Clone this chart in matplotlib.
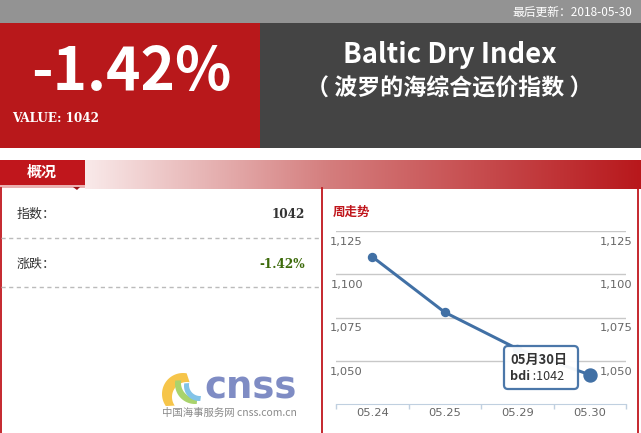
import matplotlib
matplotlib.use('Agg')
import matplotlib.pyplot as plt
import numpy as np
from matplotlib.patches import Rectangle, FancyBboxPatch, Polygon
from matplotlib import transforms

# ---------------- data ----------------
dates = ['05.24', '05.25', '05.29', '05.30']
bdi = [1110, 1078, 1057, 1042]
yticks = [1050, 1075, 1100, 1125]
ytick_labels = ['1,050', '1,075', '1,100', '1,125']
change_pct = '-1.42%'
latest_value = 1042
update_date = '2018-05-30'
tooltip_date = '05月30日'
title_en = 'Baltic Dry Index'
title_cn = '（ 波罗的海综合运价指数 ）'

W, H = 641, 433
fig = plt.figure(figsize=(W / 100, H / 100), dpi=100)
CJK = ['Noto Sans CJK SC', 'DejaVu Sans']
PT = 0.72  # points per pixel

bg = fig.add_axes([0, 0, 1, 1])
bg.set_xlim(0, W)
bg.set_ylim(H, 0)
bg.axis('off')

RED = '#b8181b'
# top bar
bg.add_patch(Rectangle((0, 0), W, 23, color='#939393', lw=0))
bg.text(632, 12, '最后更新：' + update_date, color='white', fontsize=11.8 * PT,
        family=CJK, ha='right', va='center')
# red block
bg.add_patch(Rectangle((0, 23), 260, 125, color=RED, lw=0))
bg.text(131, 73, change_pct, color='white', fontsize=58.5 * PT, family=CJK,
        fontweight='bold', ha='center', va='center')
bg.text(12, 118, 'VALUE: %d' % latest_value, color='white', fontsize=12 * PT,
        family='DejaVu Serif', fontweight='bold', ha='left', va='center')
# dark block
bg.add_patch(Rectangle((260, 23), W - 260, 125, color='#444444', lw=0))
bg.text(450, 55, title_en, color='white', fontsize=27.5 * PT, family=CJK,
        fontweight='bold', ha='center', va='center')
bg.text(449, 89, title_cn, color='white', fontsize=23 * PT, family=CJK,
        fontweight='bold', ha='center', va='center')

# section header gradient
xs = np.linspace(85, 641, 400)
stops_x = [85, 330, 641]
cols = np.array([[249, 234, 234], [212, 125, 125], [184, 24, 28]]) / 255.0
grad = np.stack([np.interp(xs, stops_x, cols[:, i]) for i in range(3)], axis=-1)[None, :, :]
bg.imshow(grad, extent=(85, 641, 189, 160), aspect='auto', interpolation='bilinear', zorder=1)
bg.set_xlim(0, W)
bg.set_ylim(H, 0)
bg.add_patch(Rectangle((0, 160), 85, 25, color='#c0161c', lw=0, zorder=2))
bg.add_patch(Rectangle((0, 185), 85, 2.5, color='#eab0b0', lw=0, zorder=2))
bg.add_patch(Polygon([[73, 187], [80, 187], [77, 190]], closed=True, color='#9a1015', lw=0, zorder=2))
bg.text(42, 172, '概况', color='white', fontsize=15 * PT, family=CJK,
        fontweight='bold', ha='center', va='center', zorder=3)

# panel borders
for x in (0.8, 321.5, 637.5):
    bg.plot([x, x], [188, H], color='#c0161c', lw=1.3, zorder=2)

# left panel
bg.text(17, 214, '指数：', color='#333333', fontsize=13 * PT, family=CJK, ha='left', va='center')
bg.text(305, 214, '%d' % latest_value, color='#333333', fontsize=12 * PT,
        family='DejaVu Serif', fontweight='bold', ha='right', va='center')
bg.plot([1, 321], [238, 238], color='#bbbbbb', lw=1, ls=(0, (3, 2.5)))
bg.text(17, 264, '涨跌：', color='#333333', fontsize=13 * PT, family=CJK, ha='left', va='center')
bg.text(305, 264, change_pct, color='#3c6a0a', fontsize=12 * PT,
        family='DejaVu Serif', fontweight='bold', ha='right', va='center')
bg.plot([1, 321], [287, 287], color='#bbbbbb', lw=1, ls=(0, (3, 2.5)))


# logo (decorative crescents)
def crescent(c1, r1, c2, r2, t0, t1, n=40):
    a = np.radians(np.linspace(t0, t1, n))
    outer = np.c_[c1[0] + r1 * np.cos(a), c1[1] - r1 * np.sin(a)]
    inner = np.c_[c2[0] + r2 * np.cos(a[::-1]), c2[1] - r2 * np.sin(a[::-1])]
    return np.vstack([outer, inner])


bg.add_patch(Polygon(crescent((183, 394), 21, (187, 397), 15, 80, 215), closed=True,
                     color='#f6c54a', lw=0))
bg.add_patch(Polygon(crescent((195, 384), 20, (196, 383), 15, 170, 275), closed=True,
                     color='#a9d36c', lw=0))
bg.add_patch(Polygon(crescent((199, 386), 15, (200, 385), 11, 170, 275), closed=True,
                     color='#82c3e8', lw=0))
bg.text(251, 388, 'cnss', color='#7f8cc4', fontsize=37 * PT, family='DejaVu Sans',
        fontweight='bold', ha='center', va='center')
bg.text(229, 413, '中国海事服务网 cnss.com.cn', color='#8a8a8a', fontsize=10.4 * PT,
        family=CJK, ha='center', va='center')

# right panel title
bg.text(333, 212, '周走势', color='#c0161c', fontsize=12.5 * PT, family=CJK,
        fontweight='bold', ha='left', va='center')

# ---------------- chart ----------------
ax_l, ax_r, ax_t, ax_b = 336, 626, 230.7, 404.3
ax = fig.add_axes([ax_l / W, 1 - ax_b / H, (ax_r - ax_l) / W, (ax_b - ax_t) / H])
ax.patch.set_alpha(0)
ax.set_xlim(-0.5, len(dates) - 0.5)
ax.set_ylim(1025, 1125)
for s in ('top', 'left', 'right'):
    ax.spines[s].set_visible(False)
ax.spines['bottom'].set_color('#c0d0e0')
ax.set_yticks(yticks)
ax.tick_params(axis='y', length=0, labelleft=False)
ax.yaxis.grid(True, color='#c8c8c8', lw=1)
ax.set_axisbelow(True)
xpos = np.arange(len(dates))
ax.set_xticks(xpos)
ax.set_xticklabels(dates)
ax.set_xticks(np.arange(len(dates) + 1) - 0.5, minor=True)
ax.tick_params(axis='x', which='major', length=0, pad=3, labelsize=11.5 * PT, labelcolor='#666666')
ax.tick_params(axis='x', which='minor', length=5 * PT, color='#c0d0e0', width=1)

off = transforms.ScaledTranslation(0, -11 / 100, fig.dpi_scale_trans)
trL = transforms.blended_transform_factory(ax.transAxes, ax.transData) + off
for v, lab in zip(yticks, ytick_labels):
    ax.text((363 - ax_l) / (ax_r - ax_l), v, lab, transform=trL, ha='right', va='center',
            fontsize=11.5 * PT, color='#666666')
    ax.text((600 - ax_l) / (ax_r - ax_l), v, lab, transform=trL, ha='left', va='center',
            fontsize=11.5 * PT, color='#666666')

LINE = '#4170a5'
ax.plot(xpos, bdi, color=LINE, lw=3 * PT, marker='o', markersize=8 * PT, zorder=3, clip_on=False)
ax.plot(xpos[-1:], bdi[-1:], color=LINE, marker='o', markersize=13 * PT, ls='none', zorder=4, clip_on=False)

# ---------------- tooltip ----------------
top = fig.add_axes([0, 0, 1, 1])
top.set_xlim(0, W)
top.set_ylim(H, 0)
top.axis('off')
top.add_patch(FancyBboxPatch((504, 346), 74, 43, boxstyle='round,pad=0,rounding_size=4',
                             fc='white', ec=LINE, lw=1.6, alpha=0.95))
top.text(510, 360, tooltip_date, fontsize=13 * PT, family=CJK, fontweight='bold',
         color='#333333', ha='left', va='center')
t1 = top.text(510, 377, 'bdi', fontsize=12.5 * PT, family=CJK, fontweight='bold',
              color='#333333', ha='left', va='center')
top.annotate(' :%d' % latest_value, xycoords=t1, xy=(1, 0.5), va='center', ha='left',
             fontsize=12.5 * PT, family=CJK, color='#333333')

fig.savefig('out.png', dpi=100)
